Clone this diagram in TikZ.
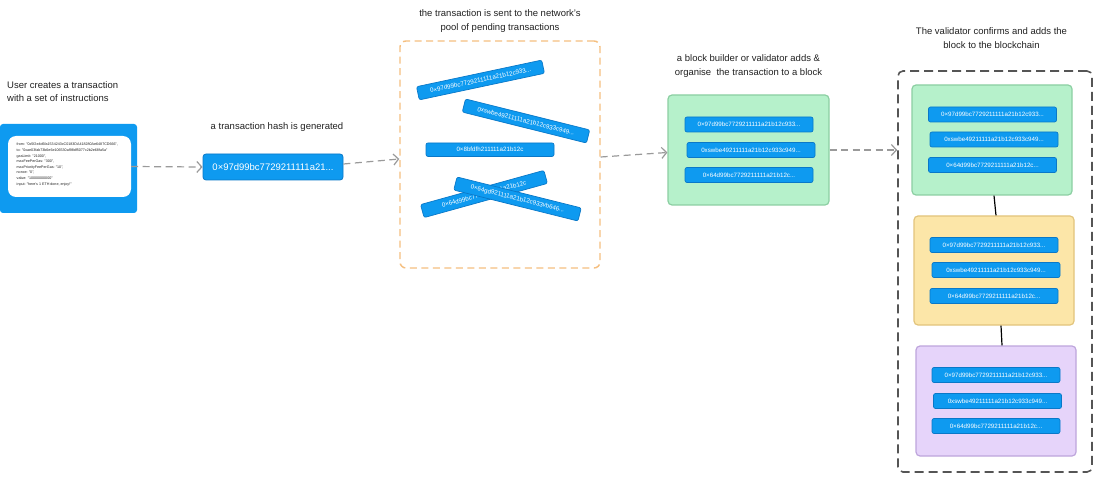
\documentclass[tikz,border=0pt]{standalone}
\usepackage{fontspec}
\setmainfont{Liberation Sans}
\usetikzlibrary{arrows.meta}
\definecolor{barblue}{HTML}{0E9AF0}
\definecolor{bardark}{HTML}{0A78C8}
\definecolor{poolorange}{HTML}{F5BF80}
\definecolor{greenfill}{HTML}{B6F1CB}
\definecolor{greenline}{HTML}{8CCFA2}
\definecolor{yellowfill}{HTML}{FCE6A8}
\definecolor{yellowline}{HTML}{E2C47C}
\definecolor{purplefill}{HTML}{E6D4FA}
\definecolor{purpleline}{HTML}{BEA5DC}
\definecolor{txt}{HTML}{222222}
\definecolor{flowgray}{HTML}{9A9A9A}
\definecolor{chaingray}{HTML}{555555}
\tikzset{
  lbl/.style={font=\fontsize{9.5}{13.5}\selectfont, text=txt, align=center, inner sep=0pt},
  txbar/.style={fill=barblue, draw=bardark, line width=0.7pt, rounded corners=2pt,
    minimum width=128pt, minimum height=15pt, inner sep=0pt, text=white,
    font=\fontsize{6.2}{7}\selectfont},
  poolbar/.style={txbar, minimum height=13.5pt},
  flow/.style={draw=flowgray, line width=1.2pt, dash pattern=on 7pt off 4.5pt,
    -{Straight Barb[length=5pt,width=11pt,line width=1.2pt]}},
  blockbox/.style={rounded corners=4pt, line width=1.2pt, minimum width=160pt,
    minimum height=110pt, inner sep=0pt},
  link/.style={draw=black, line width=1.2pt}
}
\begin{document}
\begin{tikzpicture}[x=1pt,y=1pt]
\useasboundingbox[fill=white] (0,-481) rectangle (1100,0);

% user transaction
\node[lbl, align=left, anchor=west] (ulbl) at (7,-91.5) {User creates a transaction\\with a set of instructions};
\node[fill=barblue, rounded corners=3pt, minimum width=137pt, minimum height=89pt, inner sep=0pt] (user) at (68.5,-168.5) {};
\node[fill=white, rounded corners=8pt, minimum width=123pt, minimum height=61pt, inner sep=0pt] (inner) at (69.5,-166.5) {};
\node[anchor=north west, inner sep=0pt, align=left, text=txt,
  font=\fontsize{3.65}{5.6}\selectfont] (code) at (16.5,-143) {%
from: "0x5f2e4d6fa1534243cC0183DA418280Ae6487CD666",\\
to: "0xae03fab73b6e6e106530af98df5077c2b2e68fa5a"\\
gasLimit: "21000",\\
maxFeePerGas: "300",\\
maxPriorityFeePerGas: "10",\\
nonce: "0",\\
value: "10000000000"\\
input: "here's 1 ETH done, enjoy!"};

% hash
\node[lbl] (hlbl) at (277,-127) {a transaction hash is generated};
\node[fill=barblue, draw=bardark, line width=0.8pt, rounded corners=3pt,
  minimum width=140pt, minimum height=26pt, inner sep=0pt, text=white,
  font=\fontsize{9.5}{10}\selectfont] (hash) at (273,-167) {0×97d99bc7729211111a21...};

% pool
\node[lbl] (plbl) at (500,-21) {the transaction is sent to the network's\\pool of pending transactions};
\node[draw=poolorange, line width=1.4pt, dash pattern=on 7pt off 4.5pt, rounded corners=6pt,
  minimum width=200pt, minimum height=227pt, inner sep=0pt] (pool) at (500,-154.5) {};
\node[poolbar, rotate=12] (p1) at (480.5,-80) {0×97d99bc7729211111a21b12c933...};
\node[poolbar, rotate=-14] (p2) at (526,-121) {0xswbe49211111a21b12c933c949...};
\node[poolbar] (p3) at (490,-149.7) {0×8bfdfh211111a21b12c};
\node[poolbar, rotate=15.5] (p5) at (484,-194) {0×64d99bc7729211111a21b12c};
\node[poolbar, rotate=-14] (p4) at (517.5,-199) {0×64gd921111a21b12c933vb646...};

% block builder
\node[lbl] (blbl) at (748.5,-66) {a block builder or validator adds \&\\organise\ \ the transaction to a block};
\node[blockbox, fill=greenfill, draw=greenline, minimum width=161pt] (builder) at (748.5,-150) {};
\node[txbar] (b1) at (749,-124.5) {0×97d99bc7729211111a21b12c933...};
\node[txbar] (b2) at (751,-150) {0xswbe49211111a21b12c933c949...};
\node[txbar] (b3) at (749,-175) {0×64d99bc7729211111a21b12c...};

% validator / blockchain
\node[lbl] (vlbl) at (991.5,-38) {The validator confirms and adds the\\block to the blockchain};
\node[draw=chaingray, line width=1.6pt, dash pattern=on 9pt off 5pt, rounded corners=5pt,
  minimum width=194pt, minimum height=401pt, inner sep=0pt] (chain) at (995,-271.5) {};

\node[blockbox, fill=greenfill, draw=greenline] (g) at (992,-140) {};
\node[txbar] (g1) at (992.5,-114.5) {0×97d99bc7729211111a21b12c933...};
\node[txbar] (g2) at (994,-139.5) {0xswbe49211111a21b12c933c949...};
\node[txbar] (g3) at (992.5,-165) {0×64d99bc7729211111a21b12c...};

\node[blockbox, fill=yellowfill, draw=yellowline, minimum height=109pt] (y) at (994,-270.5) {};
\node[txbar] (y1) at (994,-245) {0×97d99bc7729211111a21b12c933...};
\node[txbar] (y2) at (996,-270) {0xswbe49211111a21b12c933c949...};
\node[txbar] (y3) at (994,-296) {0×64d99bc7729211111a21b12c...};

\node[blockbox, fill=purplefill, draw=purpleline] (pu) at (996,-401) {};
\node[txbar] (pu1) at (996,-375) {0×97d99bc7729211111a21b12c933...};
\node[txbar] (pu2) at (997.5,-401) {0xswbe49211111a21b12c933c949...};
\node[txbar] (pu3) at (996,-426) {0×64d99bc7729211111a21b12c...};

\draw[link] ([xshift=2pt]g.south) -- ([xshift=2pt]y.north);
\draw[link] ([xshift=7pt]y.south) -- ([xshift=6pt]pu.north);

% flow arrows
\draw[flow] (inner.east) -- (hash.west);
\draw[flow] ([yshift=3pt]hash.east) -- ([yshift=-4.5pt]pool.west);
\draw[flow] ([yshift=-2.5pt]pool.east) -- ([yshift=-2.5pt]builder.west);
\draw[flow] (builder.east) -- (builder.east -| chain.west);
\end{tikzpicture}
\end{document}
